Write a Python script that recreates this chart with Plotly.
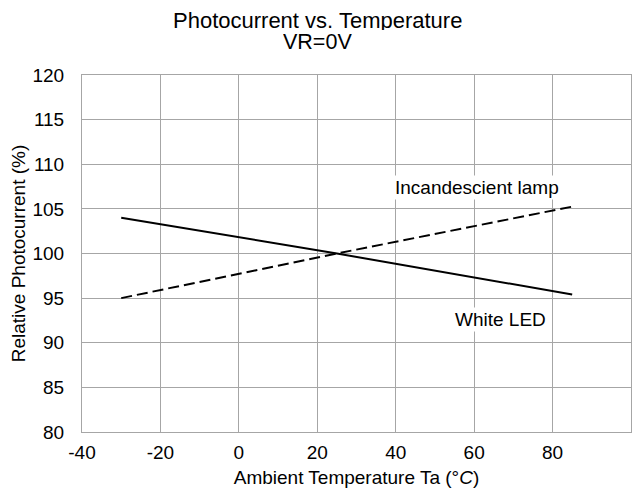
import plotly.graph_objects as go

temps = [-30, 25, 85]
white_led = [104.0, 100.0, 95.4]
incandescent = [95.0, 100.0, 105.25]

x_ticks = [-40, -20, 0, 20, 40, 60, 80, 100]
x_tick_text = ["-40", "-20", "0", "20", "40", "60", "80", "100"]
y_ticks = [80, 85, 90, 95, 100, 105, 110, 115, 120]

FONT = "Liberation Sans, Arial, sans-serif"

# figure geometry (page has an 8px body margin)
W, H = 635, 486
L, R, T, B = 74, 12, 67, 62
PW, PH = W - L - R, H - T - B

fig = go.Figure()
fig.add_trace(go.Scatter(x=temps, y=white_led, mode="lines", name="White LED",
                         line=dict(color="black", width=2)))
fig.add_trace(go.Scatter(x=temps, y=incandescent, mode="lines", name="Incandescient lamp",
                         line=dict(color="black", width=2, dash="11px,5px")))

fig.add_annotation(x=60.8, y=107.45, text="Incandescient lamp", showarrow=False,
                   bgcolor="white", font=dict(size=19, color="black", family=FONT))
fig.add_annotation(x=66.6, y=92.66, text="White LED", showarrow=False,
                   bgcolor="white", font=dict(size=19, color="black", family=FONT))

# title lines (as annotations to control line spacing)
title_x = (309.5 - L) / PW
fig.add_annotation(xref="paper", yref="paper", x=title_x, y=(H - B - 12.3) / PH,
                   text="Photocurrent vs. Temperature", showarrow=False,
                   xanchor="center", yanchor="middle", height=20, valign="middle",
                   borderpad=0,
                   font=dict(size=22, color="black", family=FONT))
fig.add_annotation(xref="paper", yref="paper", x=title_x, y=(H - B - 34) / PH,
                   text="VR=0V", showarrow=False,
                   xanchor="center", yanchor="middle", height=20, valign="middle",
                   borderpad=0,
                   font=dict(size=21.5, color="black", family=FONT))

fig.update_layout(
    width=W, height=H,
    margin=dict(l=L, r=R, t=T, b=B),
    paper_bgcolor="white", plot_bgcolor="white",
    showlegend=False,
    font=dict(family=FONT, size=19, color="black"),
    xaxis=dict(range=[-40, 100], tickvals=x_ticks, ticktext=x_tick_text, showgrid=True,
               gridcolor="#A6A6A6", automargin=False,
               gridwidth=1, showline=True, linecolor="#A6A6A6", linewidth=1, mirror=True,
               zeroline=False, ticks="", ticklabelstandoff=3,
               title=dict(text="Ambient Temperature Ta (°<i>C</i>)", standoff=8,
                          font=dict(size=19, family=FONT))),
    yaxis=dict(range=[80, 120], tickvals=y_ticks, showgrid=True, gridcolor="#A6A6A6",
               automargin=False,
               gridwidth=1, showline=True, linecolor="#A6A6A6", linewidth=1, mirror=True,
               zeroline=False, ticks="", ticklabelstandoff=13,
               title=dict(text="Relative Photocurrent (%)", standoff=4,
                          font=dict(size=19, family=FONT))),
)

fig.write_html("out.html")
